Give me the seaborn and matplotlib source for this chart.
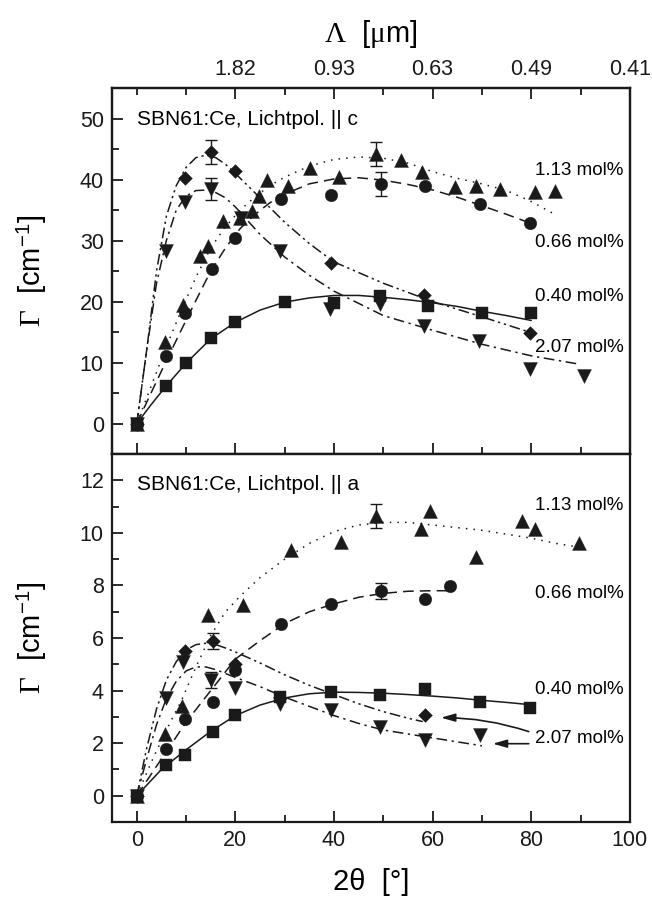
import numpy as np
import pandas as pd
import matplotlib
matplotlib.use("Agg")
import matplotlib.pyplot as plt
import seaborn as sns

# ---------------- data: top panel (Lichtpol. || c) ----------------
sq_c_x = [0, 6, 10, 15, 20, 30, 40, 49.3, 59, 70, 80]
sq_c_y = [0, 6.2, 9.9, 14.0, 16.6, 20.0, 19.8, 20.9, 19.3, 18.2, 18.2]
ci_c_x = [0, 6, 9.7, 15.3, 19.9, 29.2, 39.4, 49.5, 58.4, 69.6, 79.8]
ci_c_y = [0, 11.0, 18.2, 25.4, 30.4, 36.8, 37.4, 39.3, 38.9, 36.0, 32.9]
tu_c_x = [0, 5.7, 9.3, 12.8, 14.5, 17.5, 20.9, 23.3, 24.8, 26.5, 30.7, 35.1, 41.0,
          48.6, 53.5, 57.8, 64.5, 68.7, 73.6, 80.8, 84.8]
tu_c_y = [0, 13.3, 19.5, 27.4, 29.1, 33.2, 33.7, 34.8, 37.3, 40.0, 39.0, 41.9, 40.5,
          44.2, 43.2, 41.2, 38.7, 39.0, 38.4, 37.9, 38.1]
di_c_x = [0, 9.7, 15.1, 19.9, 39.4, 58.2, 79.7]
di_c_y = [0, 40.2, 44.5, 41.4, 26.3, 21.1, 14.8]
td_c_x = [0, 6, 9.7, 15.1, 21.2, 29, 39.2, 49.3, 58.2, 69.5, 79.7, 90.7]
td_c_y = [0, 28.3, 36.4, 38.4, 33.7, 28.3, 18.8, 19.6, 16.0, 13.6, 8.9, 7.8]

# fit curves
f_sq_c_x = [0, 3, 6, 10, 15, 20, 25, 30, 35, 40, 45, 50, 55, 60, 65, 70, 75, 80]
f_sq_c_y = [0, 3.2, 6.2, 9.9, 13.9, 16.6, 18.6, 19.9, 20.6, 21.0, 21.0, 20.7, 20.3,
            19.8, 19.2, 18.4, 17.7, 16.9]
f_ci_c_x = [0, 3, 6, 9, 12, 15, 18, 21, 24, 27, 30, 35, 40, 45, 50, 55, 60, 65, 70, 75, 80]
f_ci_c_y = [0, 5.2, 10.3, 15.3, 20.2, 25.0, 28.8, 32.0, 34.3, 36.2, 37.6, 39.3, 40.1,
            40.3, 39.9, 39.2, 38.3, 37.1, 35.7, 34.3, 32.8]
f_tu_c_x = [0, 3, 6, 9, 12, 15, 18, 21, 24, 27, 30, 35, 40, 45, 50, 55, 60, 65, 70,
            75, 80, 85]
f_tu_c_y = [0, 6.3, 12.6, 18.5, 24.0, 28.8, 32.3, 35.0, 37.2, 39.0, 40.4, 42.2, 43.3,
            43.7, 43.5, 42.7, 41.3, 40.2, 39.3, 38.2, 36.4, 34.2]
f_di_c_x = [0, 2, 4, 6, 8, 10, 12, 14, 16, 18, 20, 25, 30, 35, 40, 50, 60, 70, 80]
f_di_c_y = [0, 12, 25, 34, 39, 42, 43.6, 44, 43.6, 42.5, 41, 37, 33, 29.5, 26.5, 23,
            20, 17.5, 14.9]
f_td_c_x = [0, 2, 4, 6, 8, 10, 12, 15, 18, 20, 25, 30, 35, 40, 50, 60, 70, 80, 90]
f_td_c_y = [0, 12, 23, 30, 35, 37.3, 38.2, 38.3, 37, 35.5, 31, 27.3, 24.3, 21.7,
            17.7, 15.3, 13, 11.1, 9.7]

# ---------------- data: bottom panel (Lichtpol. || a) ----------------
sq_a_x = [0, 6, 9.7, 15.4, 19.9, 29, 39.4, 49.3, 58.4, 69.6, 79.8]
sq_a_y = [0, 1.16, 1.54, 2.43, 3.09, 3.76, 3.95, 3.82, 4.05, 3.56, 3.34]
ci_a_x = [0, 6, 9.7, 15.4, 19.9, 29.2, 39.4, 49.5, 58.4, 63.6]
ci_a_y = [0, 1.79, 2.93, 3.57, 4.77, 6.53, 7.28, 7.78, 7.5, 7.97]
tu_a_x = [0, 5.7, 9.1, 14.5, 21.6, 31.2, 41.5, 48.5, 57.6, 59.4, 68.7, 78.2, 80.7, 89.7]
tu_a_y = [0, 2.36, 3.4, 6.87, 7.25, 9.35, 9.65, 10.65, 10.13, 10.85, 9.1, 10.45,
          10.13, 9.6]
di_a_x = [0, 9.7, 15.4, 19.9, 58.4]
di_a_y = [0, 5.5, 5.88, 5.03, 3.09]
td_a_x = [0, 6, 9.3, 15.1, 19.9, 29, 39.4, 49.3, 58.4, 69.6]
td_a_y = [0, 3.7, 5.1, 4.4, 4.08, 3.5, 3.25, 2.6, 2.12, 2.31]

f_sq_a_x = [0, 5, 10, 15, 20, 25, 30, 35, 40, 45, 50, 55, 60, 65, 70, 75, 80]
f_sq_a_y = [0, 1.0, 1.75, 2.45, 3.05, 3.45, 3.72, 3.88, 3.94, 3.93, 3.9, 3.85, 3.79,
            3.72, 3.63, 3.55, 3.46]
f_ci_a_x = [0, 5, 10, 15, 20, 25, 30, 35, 40, 45, 50, 55, 60, 63]
f_ci_a_y = [0, 1.4, 2.8, 4.0, 5.2, 5.9, 6.55, 7.0, 7.3, 7.55, 7.7, 7.78, 7.8, 7.8]
f_tu_a_x = [0, 3, 6, 9, 12, 15, 18, 21, 25, 30, 35, 40, 45, 50, 55, 60, 65, 70, 75,
            80, 85, 90]
f_tu_a_y = [0, 1.3, 2.5, 3.6, 4.9, 6.1, 7.0, 7.6, 8.3, 9.0, 9.6, 10.05, 10.3, 10.4,
            10.4, 10.3, 10.2, 10.1, 9.95, 9.8, 9.6, 9.45]
f_di_a_x = [0, 2, 4, 6, 8, 10, 12, 14, 16, 18, 20, 25, 30, 35, 40, 45, 50, 55, 58]
f_di_a_y = [0, 1.8, 3.3, 4.4, 5.1, 5.55, 5.75, 5.8, 5.75, 5.62, 5.47, 5.05, 4.6, 4.2,
            3.85, 3.5, 3.2, 2.95, 2.82]
f_td_a_x = [0, 2, 4, 6, 8, 10, 12, 14, 16, 18, 20, 25, 30, 35, 40, 45, 50, 55, 60, 65, 70]
f_td_a_y = [0, 1.4, 2.7, 3.7, 4.35, 4.75, 4.9, 4.9, 4.8, 4.65, 4.5, 4.15, 3.75, 3.4,
            3.05, 2.75, 2.5, 2.35, 2.2, 2.05, 1.9]

# error bars: (x, y, err)
err_c = [(15.1, 44.5, 2.0), (15.1, 38.4, 1.8), (48.6, 44.2, 2.0), (49.5, 39.3, 2.0)]
err_a = [(15.4, 5.88, 0.3), (15.1, 4.4, 0.3), (48.5, 10.65, 0.45), (49.5, 7.78, 0.3)]

conc_labels = ["1.13 mol%", "0.66 mol%", "0.40 mol%", "2.07 mol%"]
lab_y_c = [41.5, 29.6, 20.8, 12.4]
lab_y_a = [11.05, 7.7, 4.05, 2.17]

top_tick_pos = [20, 40, 60, 80, 100]
top_tick_lab = ["1.82", "0.93", "0.63", "0.49", "0.41"]

# ---------------- style ----------------
sns.set_theme(style="ticks")
plt.rcParams["font.family"] = ["Liberation Sans", "DejaVu Sans"]
plt.rcParams["mathtext.fontset"] = "custom"
plt.rcParams["mathtext.rm"] = "Liberation Serif"
plt.rcParams["mathtext.it"] = "Liberation Serif:italic"
plt.rcParams["mathtext.sf"] = "Liberation Sans"
for k in ["text.color", "axes.labelcolor", "xtick.color", "ytick.color",
          "axes.edgecolor", "xtick.labelcolor", "ytick.labelcolor"]:
    plt.rcParams[k] = "black"

LS = {
    "sq": "-",
    "ci": (0, (7, 4)),
    "tu": (0, (1, 4)),
    "di": (0, (7, 2.5, 1.5, 2.5, 1.5, 2.5)),
    "td": (0, (7, 3, 1.5, 3)),
}
MK = {"sq": ("s", 8.5), "ci": ("o", 9), "tu": ("^", 10), "di": ("D", 7), "td": ("v", 10)}

fig = plt.figure(figsize=(6.52, 9.07), dpi=100)
ax1 = fig.add_axes([0.172, 0.4994, 0.794, 0.4035])
ax2 = fig.add_axes([0.172, 0.0937, 0.794, 0.4057])


def draw(ax, pts, fits, errs):
    for key, (fx, fy) in fits.items():
        sns.lineplot(x=fx, y=fy, ax=ax, color="k", lw=1.1, linestyle=LS[key],
                     estimator=None, sort=False, zorder=2)
    for x, y, e in errs:
        ax.errorbar([x], [y], yerr=[e], fmt="none", ecolor="k", elinewidth=1.0,
                    capsize=4.5, capthick=1.0, zorder=3)
    for key, (px, py) in pts.items():
        m, ms = MK[key]
        sns.scatterplot(x=px, y=py, ax=ax, marker=m, s=ms ** 2, color="k",
                        edgecolor="k", linewidth=0.3, zorder=4)


draw(ax1,
     {"sq": (sq_c_x, sq_c_y), "ci": (ci_c_x, ci_c_y), "tu": (tu_c_x, tu_c_y),
      "di": (di_c_x, di_c_y), "td": (td_c_x, td_c_y)},
     {"sq": (f_sq_c_x, f_sq_c_y), "ci": (f_ci_c_x, f_ci_c_y), "tu": (f_tu_c_x, f_tu_c_y),
      "di": (f_di_c_x, f_di_c_y), "td": (f_td_c_x, f_td_c_y)},
     err_c)
draw(ax2,
     {"sq": (sq_a_x, sq_a_y), "ci": (ci_a_x, ci_a_y), "tu": (tu_a_x, tu_a_y),
      "di": (di_a_x, di_a_y), "td": (td_a_x, td_a_y)},
     {"sq": (f_sq_a_x, f_sq_a_y), "ci": (f_ci_a_x, f_ci_a_y), "tu": (f_tu_a_x, f_tu_a_y),
      "di": (f_di_a_x, f_di_a_y), "td": (f_td_a_x, f_td_a_y)},
     err_a)

for ax in (ax1, ax2):
    ax.set_xlim(-5, 100)
    ax.set_xticks([0, 20, 40, 60, 80, 100])
    ax.set_xticks([10, 30, 50, 70, 90], minor=True)
    for s in ax.spines.values():
        s.set_linewidth(1.6)
        s.set_color("k")
    ax.tick_params(which="both", direction="in", color="k", width=1.3,
                   labelsize=15.5, labelcolor="k")
    ax.tick_params(which="major", length=8, pad=6)
    ax.tick_params(which="minor", length=5)
    ax.tick_params(axis="y", which="both", left=True, right=False)
    ax.set_xlabel("")
    ax.set_ylabel(r"$\mathrm{\Gamma}$  [cm$^{\mathsf{-1}}$]", fontsize=21, labelpad=22)

ax1.set_ylim(-5, 55)
ax1.set_yticks(np.arange(0, 51, 10))
ax1.set_yticks(np.arange(5, 51, 10), minor=True)
ax1.tick_params(axis="x", which="both", bottom=True, top=False, labelbottom=False)

ax2.set_ylim(-1, 13)
ax2.set_yticks(np.arange(0, 13, 2))
ax2.set_yticks(np.arange(1, 13, 2), minor=True)
ax2.tick_params(axis="x", which="both", bottom=True, top=False, labelbottom=True)
ax2.set_xlabel("2θ  [°]", fontsize=21, labelpad=12)

# top Lambda axis
axt = ax1.twiny()
axt.set_xlim(ax1.get_xlim())
axt.set_xticks(top_tick_pos)
axt.set_xticklabels(top_tick_lab)
axt.set_xticks([0, 10, 30, 50, 70, 90], minor=True)
axt.tick_params(which="both", direction="in", color="k", width=1.3, labelsize=15.5,
                labelcolor="k")
axt.tick_params(which="major", length=8, pad=6)
axt.tick_params(which="minor", length=5)
axt.set_xlabel(r"$\mathrm{\Lambda}$  [$\mathrm{\mu}$m]", fontsize=21, labelpad=12)
for s in axt.spines.values():
    s.set_linewidth(1.6)
    s.set_color("k")

# texts
ax1.text(0, 49.8, "SBN61:Ce, Lichtpol. || c", fontsize=15, va="center", ha="left")
ax2.text(0, 11.85, "SBN61:Ce, Lichtpol. || a", fontsize=15, va="center", ha="left")
for lab, y in zip(conc_labels, lab_y_c):
    ax1.text(80.7, y, lab, fontsize=13.5, va="center", ha="left")
for lab, y in zip(conc_labels, lab_y_a):
    ax2.text(80.7, y, lab, fontsize=13.5, va="center", ha="left")

ax2.annotate("", xy=(61.7, 2.97), xytext=(79.5, 2.44),
             arrowprops=dict(arrowstyle="-|>,head_length=0.7,head_width=0.2",
                             lw=1.2, color="k", connectionstyle="arc3,rad=0.08",
                             shrinkA=0, shrinkB=0))
ax2.annotate("", xy=(72.2, 1.98), xytext=(79.5, 1.98),
             arrowprops=dict(arrowstyle="-|>,head_length=0.7,head_width=0.2",
                             lw=1.2, color="k", shrinkA=0, shrinkB=0))

fig.savefig("out.png", dpi=100)
